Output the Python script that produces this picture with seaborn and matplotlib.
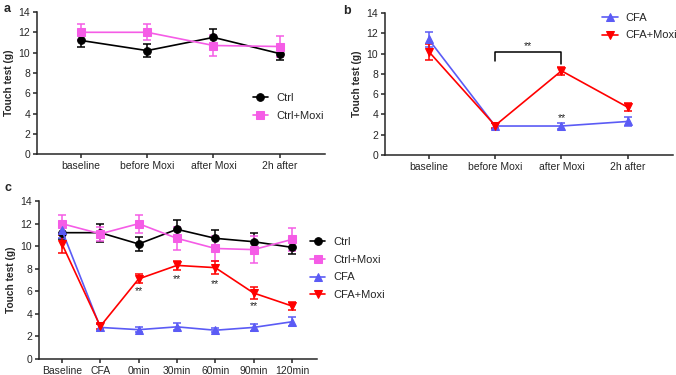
import numpy as np
import pandas as pd
import matplotlib
matplotlib.use("Agg")
import matplotlib.pyplot as plt
import seaborn as sns

# panel a / b time points
times_ab = ["baseline", "before Moxi", "after Moxi", "2h after"]
ctrl_a = [11.2, 10.2, 11.5, 9.9]
ctrl_a_err = [0.6, 0.6, 0.8, 0.6]
ctrl_moxi_a = [12.0, 12.0, 10.7, 10.6]
ctrl_moxi_a_err = [0.8, 0.8, 1.0, 1.05]
cfa_b = [11.4, 2.85, 2.85, 3.3]
cfa_b_err = [0.7, 0.3, 0.3, 0.4]
cfa_moxi_b = [10.2, 2.9, 8.3, 4.7]
cfa_moxi_b_err = [0.8, 0.2, 0.4, 0.4]

# panel c time points
times_c = ["Baseline", "CFA", "0min", "30min", "60min", "90min", "120min"]
ctrl_c = [11.2, 11.2, 10.2, 11.5, 10.7, 10.4, 9.9]
ctrl_c_err = [0.6, 0.8, 0.6, 0.8, 0.7, 0.8, 0.6]
ctrl_moxi_c = [12.0, 11.1, 12.0, 10.7, 9.8, 9.7, 10.6]
ctrl_moxi_c_err = [0.8, 0.6, 0.8, 1.0, 1.1, 1.2, 1.05]
cfa_c = [11.4, 2.8, 2.6, 2.85, 2.55, 2.8, 3.3]
cfa_c_err = [0.7, 0.3, 0.2, 0.3, 0.2, 0.3, 0.4]
cfa_moxi_c = [10.2, 2.9, 7.1, 8.3, 8.1, 5.85, 4.7]
cfa_moxi_c_err = [0.8, 0.2, 0.4, 0.4, 0.6, 0.5, 0.35]

# significance marks
star_b = [(2, 3.65)]
star_c = [(2, 6.0), (3, 7.1), (4, 6.6), (5, 4.7)]

sns.set_style("ticks")
plt.rcParams["font.family"] = ["Liberation Sans", "DejaVu Sans"]
plt.rcParams["axes.linewidth"] = 1.1
plt.rcParams["xtick.major.width"] = 1.1
plt.rcParams["ytick.major.width"] = 1.1
plt.rcParams["xtick.major.size"] = 3
plt.rcParams["ytick.major.size"] = 3

style = {
    "Ctrl": ("black", "o"),
    "Ctrl+Moxi": ("#F55CE6", "s"),
    "CFA": ("#5B5BF5", "^"),
    "CFA+Moxi": ("#FF0000", "v"),
}

leg_kw = dict(frameon=False, fontsize=8, handlelength=1.4,
              handletextpad=0.7, labelspacing=0.7, borderpad=0.4)


def draw_group(ax, labels, vals, errs, name):
    color, marker = style[name]
    df = pd.DataFrame({"pos": np.arange(len(labels)), "val": vals, "err": errs})
    ax.errorbar(df["pos"], df["val"], yerr=df["err"], fmt="none", ecolor=color,
                elinewidth=1.1, capsize=3, capthick=1.1, zorder=2)
    sns.lineplot(data=df, x="pos", y="val", color=color, marker=marker,
                 markersize=5.5, markeredgecolor=color, linewidth=1.2,
                 label=name, ax=ax, zorder=3)


def style_axes(ax, labels, xlim):
    ax.set_xlim(*xlim)
    ax.set_ylim(0, 14)
    ax.set_yticks(range(0, 15, 2))
    ax.set_xticks(range(len(labels)))
    ax.set_xticklabels(labels)
    ax.tick_params(labelsize=7.5, pad=2)
    ax.set_xlabel("")
    ax.set_ylabel("Touch test (g)", fontsize=7.3, fontweight="bold", labelpad=3)
    sns.despine(ax=ax)


fig = plt.figure(figsize=(6.76, 3.75), dpi=100)
ax_a = fig.add_axes([0.0547, 0.589, 0.426, 0.379])
ax_b = fig.add_axes([0.5695, 0.587, 0.426, 0.378])
ax_c = fig.add_axes([0.0577, 0.0427, 0.411, 0.421])

draw_group(ax_a, times_ab, ctrl_a, ctrl_a_err, "Ctrl")
draw_group(ax_a, times_ab, ctrl_moxi_a, ctrl_moxi_a_err, "Ctrl+Moxi")
style_axes(ax_a, times_ab, (-0.66, 3.68))
ax_a.legend(loc="center left", bbox_to_anchor=(0.714, 0.334), **leg_kw)

draw_group(ax_b, times_ab, cfa_b, cfa_b_err, "CFA")
draw_group(ax_b, times_ab, cfa_moxi_b, cfa_moxi_b_err, "CFA+Moxi")
style_axes(ax_b, times_ab, (-0.66, 3.68))
ax_b.legend(loc="center left", bbox_to_anchor=(0.72, 0.905), **leg_kw)
ax_b.plot([1, 1, 2, 2], [9.3, 10.15, 10.15, 9.0], color="black", lw=1.1)
ax_b.text(1.5, 10.73, "**", ha="center", va="center", fontsize=7.5)
for x, y in star_b:
    ax_b.text(x, y, "**", ha="center", va="center", fontsize=7.5)

draw_group(ax_c, times_c, ctrl_c, ctrl_c_err, "Ctrl")
draw_group(ax_c, times_c, ctrl_moxi_c, ctrl_moxi_c_err, "Ctrl+Moxi")
draw_group(ax_c, times_c, cfa_c, cfa_c_err, "CFA")
draw_group(ax_c, times_c, cfa_moxi_c, cfa_moxi_c_err, "CFA+Moxi")
style_axes(ax_c, times_c, (-0.6, 6.65))
ax_c.legend(loc="center left", bbox_to_anchor=(0.939, 0.573), **leg_kw)
for x, y in star_c:
    ax_c.text(x, y, "**", ha="center", va="center", fontsize=7.5)

fig.text(0.006, 0.975, "a", fontsize=9, fontweight="bold", va="center")
fig.text(0.508, 0.97, "b", fontsize=9, fontweight="bold", va="center")
fig.text(0.006, 0.498, "c", fontsize=9, fontweight="bold", va="center")

fig.savefig("out.png", dpi=100)
